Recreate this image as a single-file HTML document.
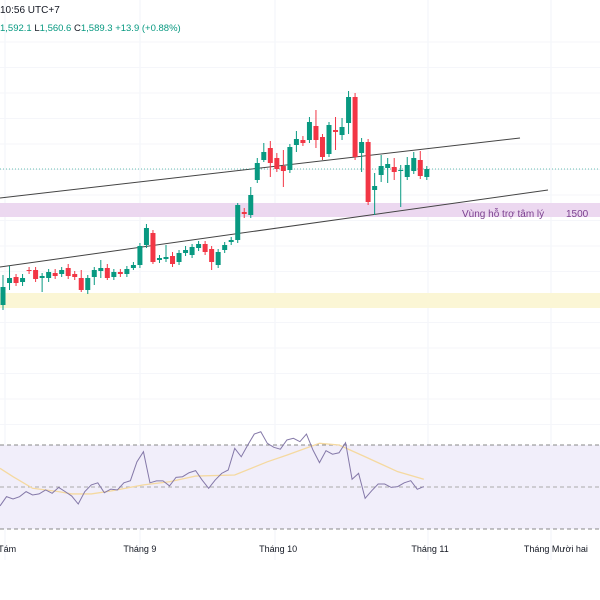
<!DOCTYPE html>
<html><head><meta charset="utf-8"><style>
html,body{margin:0;padding:0;background:#fff;}
svg{display:block;font-family:"Liberation Sans","DejaVu Sans",sans-serif;}
</style></head><body>
<svg id="chart" width="600" height="600" viewBox="0 0 600 600">
<rect x="0" y="0" width="600" height="600" fill="#ffffff"/>
<g id="grid"></g>
<rect x="0" y="203" width="600" height="14" fill="#ecd8f0"/>
<rect x="0" y="293" width="600" height="15" fill="#fbf6d5"/>
<text x="462" y="217" font-size="10" fill="#7b3f8f">Vùng hỗ trợ tâm lý</text>
<text x="566" y="217" font-size="10" fill="#7b3f8f">1500</text>
<line x1="0" y1="198" x2="520" y2="138" stroke="#444" stroke-width="1"/>
<line x1="0" y1="267" x2="548" y2="190" stroke="#444" stroke-width="1"/>
<line id="lastline" x1="0" x2="600" stroke="#089981" stroke-width="1" stroke-dasharray="1,2" opacity="0.6"/>
<g id="candles"></g>
<rect x="0" y="445" width="600" height="84" fill="#f1eefa"/>
<line x1="0" y1="445" x2="600" y2="445" stroke="#888" stroke-dasharray="4,3"/>
<line x1="0" y1="487" x2="600" y2="487" stroke="#aaa" stroke-dasharray="4,3"/>
<line x1="0" y1="529" x2="600" y2="529" stroke="#888" stroke-dasharray="4,3"/>
<polyline id="rsima" fill="none" stroke="#f5d9a0" stroke-width="1.3"/>
<polyline id="rsi" fill="none" stroke="#8478a8" stroke-width="1"/>
<g id="xlabels" font-size="9" fill="#131722"></g>
<text x="0" y="13" font-size="10" fill="#131722">10:56 UTC+7</text>
<text x="0" y="31" font-size="9.5" fill="#089981">1,592.1 <tspan fill="#131722">L</tspan>1,560.6 <tspan fill="#131722">C</tspan>1,589.3 +13.9 (+0.88%)</text>
</svg>
<script>
const opens  = [1310,1354,1366,1356,1380,1380,1364,1364,1374,1372,1384,1372,1364,1340,1366,1378,1384,1366,1376,1372,1384,1390,1430,1454,1400,1402,1408,1396,1414,1410,1424,1432,1422,1390,1420,1436,1440,1496,1490,1560,1600,1624,1604,1588,1580,1630,1640,1640,1668,1646,1612,1660,1650,1674,1726,1614,1636,1540,1570,1584,1586,1578,1566,1578,1600,1566];
const closes = [1346,1364,1354,1364,1378,1362,1368,1376,1368,1380,1368,1366,1340,1364,1380,1384,1364,1376,1372,1382,1390,1428,1464,1396,1404,1406,1392,1414,1420,1426,1432,1416,1396,1416,1430,1440,1510,1492,1530,1594,1616,1594,1582,1578,1626,1642,1634,1676,1640,1606,1670,1656,1666,1726,1606,1636,1516,1548,1588,1592,1576,1580,1590,1604,1568,1582];
const highs  = [1370,1388,1372,1372,1386,1386,1374,1382,1382,1386,1392,1378,1380,1370,1386,1400,1392,1382,1382,1388,1396,1434,1472,1460,1410,1430,1416,1420,1428,1432,1438,1438,1428,1422,1436,1446,1514,1504,1546,1604,1634,1638,1614,1620,1632,1658,1648,1686,1700,1652,1676,1686,1684,1738,1734,1644,1642,1574,1610,1604,1604,1590,1606,1616,1618,1588];
const lows   = [1300,1340,1348,1348,1372,1356,1336,1356,1362,1366,1362,1360,1336,1332,1350,1364,1360,1360,1366,1366,1380,1384,1424,1392,1394,1396,1386,1390,1408,1404,1418,1410,1380,1384,1414,1430,1434,1484,1484,1554,1596,1566,1576,1546,1574,1616,1628,1634,1624,1600,1606,1620,1640,1652,1600,1576,1510,1490,1556,1554,1560,1506,1560,1572,1562,1560];
const rsiValues = [41.0,45.4,44.3,45.4,47.8,46.2,46.7,48.6,47.0,49.8,47.8,45.7,41.9,47.8,51.0,52.0,47.3,49.0,48.6,52.0,53.0,62.0,66.8,52.0,52.9,52.9,50.5,54.6,54.9,56.8,57.8,53.3,49.4,53.3,56.5,58.1,68.4,64.4,70.0,75.2,76.3,70.8,68.9,68.0,72.4,73.2,71.6,75.2,67.6,61.6,67.3,65.6,66.3,71.1,53.7,56.5,44.6,48.2,51.4,51.4,49.8,50.2,52.0,53.0,48.9,50.2];
const maIndex = [0,2,5,9,11,14,17,22,26,30,36,41,44,49,52,56,61,65];
const maValues = [58.9,54.9,49.4,47.8,46.7,46.7,48.1,51.0,52.5,55.2,55.7,62.0,65.2,70.8,70.0,64.4,57.3,53.7];
const monthLabels = ["Tháng Tám","Tháng 9","Tháng 10","Tháng 11","Tháng Mười hai"];
const monthIndex = [-1.5,21,42.2,65.5,84.8];

const NS = "http://www.w3.org/2000/svg";
function xScale(i){ return 3 + i*6.52; }
function yScale(p){ return 210 - (p-1500)/2; }
function rsiY(v){ return 487 - (v-50)*2.1; }

const grid = document.getElementById('grid');
[5,140,275,428,551].forEach(function(x){
  const l = document.createElementNS(NS,'line');
  l.setAttribute('x1',x);l.setAttribute('x2',x);l.setAttribute('y1',0);l.setAttribute('y2',560);
  l.setAttribute('stroke','#f0f3fa');
  
  
  grid.appendChild(l);
});
for(let y=42;y<430;y+=25.5){
  const l = document.createElementNS(NS,'line');
  l.setAttribute('x1',0);l.setAttribute('x2',600);l.setAttribute('y1',y);l.setAttribute('y2',y);
  l.setAttribute('stroke','#f5f6fa');
  
  
  grid.appendChild(l);
}

const cg = document.getElementById('candles');
for(let i=0;i<opens.length;i++){
  const up = closes[i]>=opens[i];
  const col = up ? '#089981' : '#f23645';
  const x = xScale(i);
  const g = document.createElementNS(NS,'g');
  
  
  const w = document.createElementNS(NS,'line');
  w.setAttribute('x1',x);w.setAttribute('x2',x);
  w.setAttribute('y1',yScale(highs[i]));w.setAttribute('y2',yScale(lows[i]));
  w.setAttribute('stroke',col);w.setAttribute('stroke-width',1);
  
  
  g.appendChild(w);
  const top = yScale(Math.max(opens[i],closes[i]));
  const bot = yScale(Math.min(opens[i],closes[i]));
  const b = document.createElementNS(NS,'rect');
  b.setAttribute('x',x-2.5);b.setAttribute('width',5);
  b.setAttribute('y',top);b.setAttribute('height',Math.max(1,bot-top));
  b.setAttribute('fill',col);
  
  
  g.appendChild(b);
  cg.appendChild(g);
}
const ll = document.getElementById('lastline');
ll.setAttribute('y1', yScale(closes[closes.length-1]));
ll.setAttribute('y2', yScale(closes[closes.length-1]));

document.getElementById('rsi').setAttribute('points', rsiValues.map(function(v,i){return (xScale(i)-3)+','+rsiY(v);}).join(' '));
document.getElementById('rsima').setAttribute('points', maValues.map(function(v,k){return (xScale(maIndex[k])-3)+','+rsiY(v);}).join(' '));

const xl = document.getElementById('xlabels');
monthLabels.forEach(function(t,k){
  const tx = document.createElementNS(NS,'text');
  tx.setAttribute('x', xScale(monthIndex[k]));
  tx.setAttribute('y', 552);
  tx.setAttribute('text-anchor','middle');
  tx.textContent = t;
  
  
  xl.appendChild(tx);
});
</script>
</body></html>
